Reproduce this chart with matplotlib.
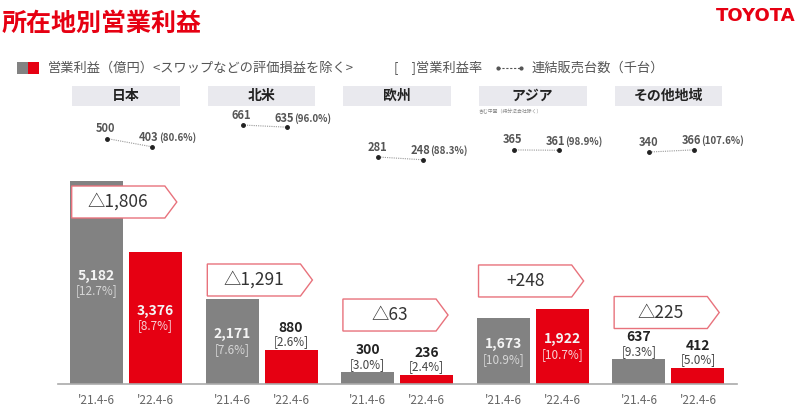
import numpy as np
import matplotlib.pyplot as plt
from matplotlib.patches import Polygon, Rectangle
from matplotlib.transforms import blended_transform_factory

plt.rcParams["font.family"] = ["Noto Sans CJK JP", "DejaVu Sans"]

# data
regions = ["日本", "北米", "欧州", "アジア", "その他地域"]
periods = ["'21.4-6", "'22.4-6"]
profit_21 = [5182, 2171, 300, 1673, 637]
profit_22 = [3376, 880, 236, 1922, 412]
margin_21 = ["12.7%", "7.6%", "3.0%", "10.9%", "9.3%"]
margin_22 = ["8.7%", "2.6%", "2.4%", "10.7%", "5.0%"]
sales_21 = [500, 661, 281, 365, 340]
sales_22 = [403, 635, 248, 361, 366]
sales_ratio = ["80.6%", "96.0%", "88.3%", "98.9%", "107.6%"]
changes = ["△1,806", "△1,291", "△63", "+248", "△225"]

# layout (callout centre heights in 億円 units)
callout_y = [4646, 2655, 1761, 2630, 1825]

GREY = "#828282"
RED = "#e60012"
W, H = 800, 408


def fx(px):
    return px / W


def fy(py):
    return 1 - py / H


fig = plt.figure(figsize=(W / 100, H / 100), dpi=100)
ax = fig.add_axes([fx(58), fy(384), fx(737 - 58), (384 - 100) / H])

x = np.arange(len(regions))
off, bw = 0.2175, 0.391
b1 = ax.bar(x - off, profit_21, bw, color=GREY, zorder=2)
b2 = ax.bar(x + off, profit_22, bw, color=RED, zorder=2)
ax.set_xlim(-0.501, 4.506)
ax.set_ylim(0, 7250)

for s in ["top", "left", "right"]:
    ax.spines[s].set_visible(False)
ax.spines["bottom"].set_color("#aaaaaa")
ax.spines["bottom"].set_linewidth(1.2)
ax.set_yticks([])
ax.set_xticks(np.concatenate([x - off, x + off]))
ax.set_xticklabels([periods[0]] * 5 + [periods[1]] * 5)
ax.tick_params(axis="x", length=0, pad=7, labelsize=8.5, labelcolor="#666666")

# value labels
for bars, vals, margins, is_red in [(b1, profit_21, margin_21, False), (b2, profit_22, margin_22, True)]:
    for b, v, m in zip(bars, vals, margins):
        cx = b.get_x() + b.get_width() / 2
        if v > 1000:
            mid = v / 2
            ax.annotate(f"{v:,}", (cx, mid), xytext=(0, 7), textcoords="offset pixels",
                        ha="center", va="center", fontsize=10, color="#f4f4f4", fontweight="bold")
            ax.annotate(f"[{m}]", (cx, mid), xytext=(0, -8), textcoords="offset pixels",
                        ha="center", va="center", fontsize=8.5,
                        color="#f8d2d6" if is_red else "#d6d6d6")
        else:
            ax.annotate(f"{v:,}", (cx, v), xytext=(0, 22), textcoords="offset pixels",
                        ha="center", va="center", fontsize=10, color="#222222", fontweight="bold")
            ax.annotate(f"[{m}]", (cx, v), xytext=(0, 8), textcoords="offset pixels",
                        ha="center", va="center", fontsize=8.5, color="#444444")

# change callouts
h_val = 32 / 0.03917
for i, (lab, yc) in enumerate(zip(changes, callout_y)):
    x0, xb, xt = i - 0.40, i + 0.287, i + 0.375
    y0, y1 = yc - h_val / 2, yc + h_val / 2
    poly = Polygon([(x0, y0), (xb, y0), (xt, yc), (xb, y1), (x0, y1)], closed=True,
                   facecolor="white", edgecolor="#e8727c", linewidth=1.0, zorder=4)
    ax.add_patch(poly)
    ax.text((x0 + xb) / 2, yc, lab, ha="center", va="center", fontsize=12.5,
            color="#333333", zorder=5)

# sales volume (secondary scale)
ax2 = ax.twinx()
ax2.set_ylim(-2415, 958)
ax2.axis("off")
for i in range(len(regions)):
    xl, xr = i - 0.14, i + 0.19
    ax2.plot([xl, xr], [sales_21[i], sales_22[i]], ls=(0, (1, 1)), color="#999999", lw=0.8, zorder=3)
    ax2.plot([xl, xr], [sales_21[i], sales_22[i]], ls="none", marker="o", ms=2.5,
             color="#222222", zorder=4)
    ax2.annotate(f"{sales_21[i]}", (xl, sales_21[i]), xytext=(-1, 10), textcoords="offset pixels",
                 ha="center", va="center", fontsize=8, color="#555555", fontweight="bold")
    ax2.annotate(f"{sales_22[i]}", (xr, sales_22[i]), xytext=(7, 9), textcoords="offset pixels",
                 ha="right", va="center", fontsize=8, color="#555555", fontweight="bold")
    ax2.annotate(f"({sales_ratio[i]})", (xr, sales_22[i]), xytext=(7, 9), textcoords="offset pixels",
                 ha="left", va="center", fontsize=7, color="#555555", fontweight="bold")

# region header boxes
tr = blended_transform_factory(ax.transData, fig.transFigure)
for i, r in enumerate(regions):
    fig.patches.append(Rectangle((i - 0.397, fy(106)), 0.794, 20 / H, transform=tr,
                                 facecolor="#e9e9ee", edgecolor="none"))
    fig.text(i, fy(96), r, transform=tr, ha="center", va="center", fontsize=10,
             fontweight="bold", color="#222222")
fig.text(3 - 0.40, fy(112), "含む中国（持分法会社除く）", transform=tr, ha="left",
         va="center", fontsize=3.5, color="#888888")

# title / logo
fig.text(fx(2), fy(24), "所在地別営業利益", ha="left", va="center", fontsize=18,
         fontweight="bold", color=RED)
fig.text(fx(796), fy(16), "TOYOTA", ha="right", va="center", fontsize=13,
         fontweight="bold", color=RED, family="DejaVu Sans")

# legend row
fig.patches.append(Rectangle((fx(17), fy(74)), fx(11), 12 / H, transform=fig.transFigure,
                             facecolor=GREY, edgecolor="none"))
fig.patches.append(Rectangle((fx(28), fy(74)), fx(11), 12 / H, transform=fig.transFigure,
                             facecolor=RED, edgecolor="none"))
fig.text(fx(48), fy(68), "営業利益（億円）<スワップなどの評価損益を除く>", ha="left", va="center",
         fontsize=9.5, color="#555555")
fig.text(fx(394), fy(68), "[　]営業利益率", ha="left", va="center", fontsize=9.5, color="#555555")
fig.add_artist(plt.Line2D([fx(498), fx(521)], [fy(68), fy(68)], transform=fig.transFigure,
                          ls=(0, (2, 1.5)), color="#555555", lw=0.8, marker="o", ms=2,
                          markevery=[0, 1]))
fig.text(fx(532), fy(68), "連結販売台数（千台）", ha="left", va="center", fontsize=9.5,
         color="#555555")

fig.savefig("out.png", dpi=100)
